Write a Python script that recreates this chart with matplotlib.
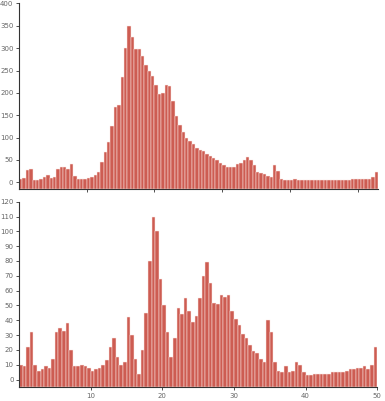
import numpy as np
from matplotlib import pyplot as plt

# top panel, one value per 0.5 step starting at x=0
top_step = 0.5
top_values = [
    8, 9, 28, 30, 6, 6, 7, 12, 17, 10,
    12, 30, 34, 34, 30, 40, 15, 7, 7, 7,
    9, 12, 16, 24, 45, 68, 90, 125, 168, 172,
    235, 300, 350, 325, 298, 298, 282, 262, 250, 238,
    218, 198, 200, 218, 215, 182, 148, 128, 112, 100,
    93, 85, 76, 73, 69, 64, 58, 54, 50, 44,
    38, 34, 34, 35, 40, 44, 50, 56, 50, 38,
    22, 20, 18, 13, 12, 38, 26, 8, 6, 5,
    6, 8, 5, 5, 4, 5, 5, 5, 5, 4,
    5, 5, 5, 4, 5, 6, 6, 6, 7, 7,
    7, 7, 8, 7, 12, 24,
]
top_yticks = [0, 50, 100, 150, 200, 250, 300, 350, 400]

# bottom panel
bottom_step = 0.5
bottom_values = [
    10, 9, 22, 32, 10, 6, 7, 9, 8, 14,
    32, 35, 33, 38, 20, 9, 9, 10, 9, 8,
    6, 7, 8, 10, 13, 22, 28, 15, 10, 12,
    42, 30, 14, 4, 20, 45, 80, 110, 100, 68,
    50, 32, 15, 28, 48, 44, 55, 46, 39, 43,
    55, 70, 79, 65, 52, 51, 57, 56, 57, 46,
    41, 37, 31, 28, 23, 19, 18, 14, 12, 40,
    32, 12, 6, 5, 9, 5, 6, 12, 10, 5,
    3, 3, 4, 4, 4, 4, 4, 5, 5, 5,
    5, 6, 7, 7, 8, 8, 9, 7, 10, 22,
]
bottom_yticks = [0, 10, 20, 30, 40, 50, 60, 70, 80, 90, 100, 110, 120]

xticks = [10, 20, 30, 40, 50]

bar_color = '#cd5c52'

fig = plt.figure(figsize=(3.85, 4.01), dpi=100)
ax_top = fig.add_axes([0.0494, 0.5287, 0.9325, 0.4626])
ax_bot = fig.add_axes([0.0496, 0.0349, 0.9300, 0.4621])


def draw_panel(ax, values, step, ymin, ymax, xmax, yticks, show_xlabels):
    x = np.arange(len(values)) * step
    v = np.array(values, dtype=float)
    ax.bar(x, v - ymin, bottom=ymin, width=step, align='edge',
           color=bar_color, edgecolor='#fbe9e6', linewidth=0.35)
    ax.set_xlim(0, xmax)
    ax.set_ylim(ymin, ymax)
    ax.set_yticks(yticks)
    ax.set_xticks(xticks)
    if not show_xlabels:
        ax.set_xticklabels([])
    for side in ['top', 'right']:
        ax.spines[side].set_visible(False)
    for side in ['left', 'bottom']:
        ax.spines[side].set_color('#333333')
        ax.spines[side].set_linewidth(0.8)
    ax.tick_params(axis='both', labelsize=5, colors='#333333', labelcolor='#666666',
                   length=2.5, width=0.6, pad=1.5)


draw_panel(ax_top, top_values, top_step, -15, 400, 53, top_yticks, False)
draw_panel(ax_bot, bottom_values, bottom_step, -5, 120, 50, bottom_yticks, True)

fig.savefig('out.png', dpi=100)
